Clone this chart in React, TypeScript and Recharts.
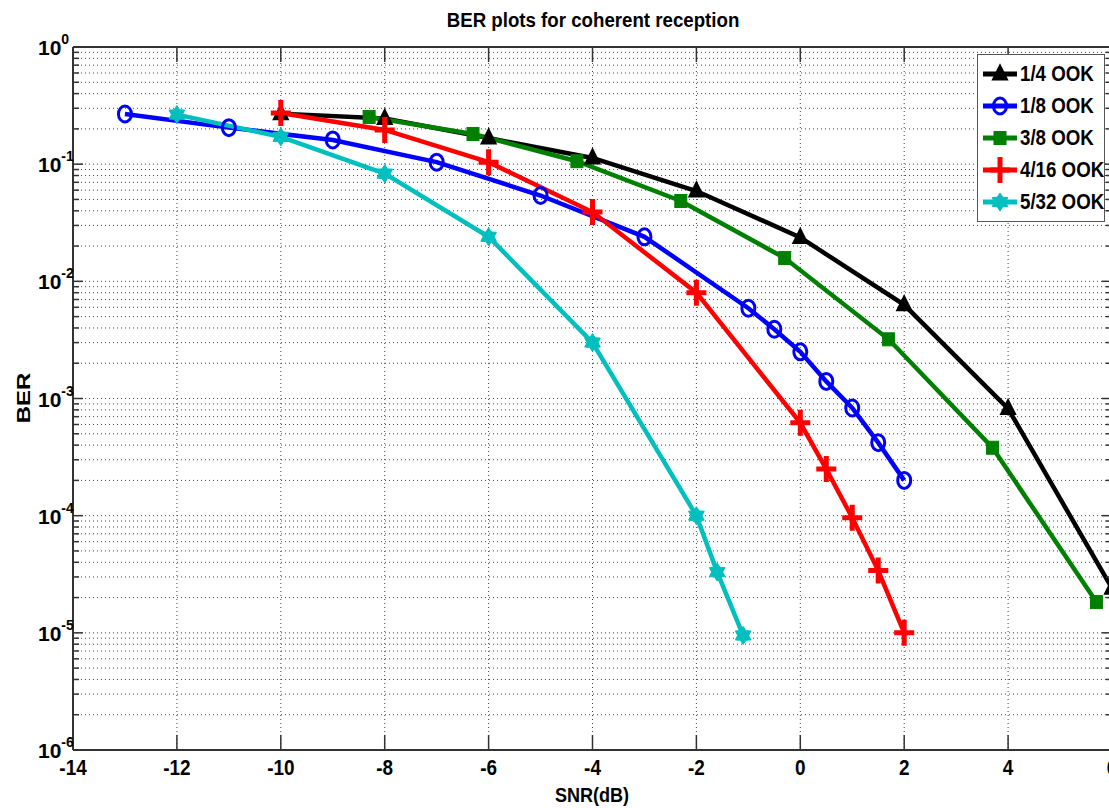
import React from 'react';
import { LineChart, Line, XAxis, YAxis, CartesianGrid, Legend } from 'recharts';

// SNR (dB) and BER, one pair of arrays per curve
const ook14Snr = [-10, -8, -6, -4, -2, 0, 2, 4, 6];
const ook14Ber = [0.27, 0.245, 0.167, 0.113, 0.059, 0.0237, 0.0063, 0.00082, 2.4e-5];

const ook18Snr = [-13, -11, -9, -7, -5, -3, -1, -0.5, 0, 0.5, 1, 1.5, 2];
const ook18Ber = [0.268, 0.205, 0.161, 0.104, 0.054, 0.024, 0.0059, 0.0039, 0.0025, 0.0014, 0.00083, 0.00042, 0.0002];

const ook38Snr = [-8.3, -6.3, -4.3, -2.3, -0.3, 1.7, 3.7, 5.7];
const ook38Ber = [0.253, 0.181, 0.106, 0.0485, 0.0158, 0.0032, 0.00038, 1.83e-5];

const ook416Snr = [-10, -8, -6, -4, -2, 0, 0.5, 1, 1.5, 2];
const ook416Ber = [0.273, 0.196, 0.104, 0.039, 0.008, 0.00062, 0.00025, 9.6e-5, 3.4e-5, 1.0e-5];

const ook532Snr = [-12, -10, -8, -6, -4, -2, -1.6, -1.1];
const ook532Ber = [0.265, 0.171, 0.083, 0.024, 0.003, 1.0e-4, 3.3e-5, 9.5e-6];

const xTicks = [-14, -12, -10, -8, -6, -4, -2, 0, 2, 4, 6];
const yMajorTicks = [1e-6, 1e-5, 1e-4, 1e-3, 1e-2, 1e-1, 1];
const yMinorSteps = [2, 3, 4, 5, 6, 7, 8, 9];
const yTicks = [
  ...yMajorTicks,
  ...yMajorTicks.slice(0, -1).flatMap((m) => yMinorSteps.map((s) => s * m)),
].sort((a, b) => a - b);

const FONT = "'Liberation Sans', Arial, sans-serif";
const AXIS = '#333';

const toRows = (xs: number[], ys: number[]) => xs.map((x, i) => ({ x, y: ys[i] }));

type MarkerKind = 'triangle' | 'circle' | 'square' | 'plus' | 'hexagram';

const series: { name: string; color: string; marker: MarkerKind; data: { x: number; y: number }[] }[] = [
  { name: '1/4 OOK', color: '#000000', marker: 'triangle', data: toRows(ook14Snr, ook14Ber) },
  { name: '1/8 OOK', color: '#0000ff', marker: 'circle', data: toRows(ook18Snr, ook18Ber) },
  { name: '3/8 OOK', color: '#008000', marker: 'square', data: toRows(ook38Snr, ook38Ber) },
  { name: '4/16 OOK', color: '#ff0000', marker: 'plus', data: toRows(ook416Snr, ook416Ber) },
  { name: '5/32 OOK', color: '#00bfbf', marker: 'hexagram', data: toRows(ook532Snr, ook532Ber) },
];

function Marker({ kind, cx, cy, color }: { kind: MarkerKind; cx: number; cy: number; color: string }) {
  if (cx == null || cy == null) return null;
  switch (kind) {
    case 'triangle':
      return <polygon points={`${cx},${cy - 8.5} ${cx + 7},${cy + 5.5} ${cx - 7},${cy + 5.5}`} fill={color} stroke={color} strokeWidth={2} />;
    case 'circle':
      return <ellipse cx={cx} cy={cy} rx={6.5} ry={8} fill="none" stroke={color} strokeWidth={3} />;
    case 'square':
      return <rect x={cx - 6} y={cy - 6.5} width={12} height={13} fill={color} stroke={color} strokeWidth={1} />;
    case 'plus':
      return <path d={`M${cx - 10},${cy}H${cx + 10}M${cx},${cy - 13}V${cy + 13}`} stroke={color} strokeWidth={5} fill="none" />;
    case 'hexagram': {
      const pts: string[] = [];
      for (let i = 0; i < 12; i++) {
        const r = i % 2 === 0 ? 9 : 5.5;
        const a = (Math.PI / 6) * i - Math.PI / 2;
        pts.push(`${cx + r * Math.cos(a)},${cy + r * Math.sin(a)}`);
      }
      return <polygon points={pts.join(' ')} fill={color} stroke={color} strokeWidth={1} />;
    }
  }
  return null;
}

const isMajor = (v: number) => yMajorTicks.includes(v);

const YTickLeft = (props: any) => {
  const { x, y, payload } = props;
  const major = isMajor(payload.value);
  const exp = Math.round(Math.log10(payload.value));
  return (
    <g>
      <line x1={x} x2={x + (major ? 10 : 6)} y1={y} y2={y} stroke={AXIS} strokeWidth={1.5} />
      {major && (
        <text x={x - 35} y={y + 8} fontFamily={FONT} fontSize={21} fontWeight="bold" fill="#000">
          10
          <tspan dy={-11} fontSize={14}>{exp}</tspan>
        </text>
      )}
    </g>
  );
};

const YTickRight = (props: any) => {
  const { x, y, payload } = props;
  const major = isMajor(payload.value);
  return <line x1={x} x2={x - (major ? 10 : 6)} y1={y} y2={y} stroke={AXIS} strokeWidth={1.5} />;
};

const XTickBottom = (props: any) => {
  const { x, y, payload } = props;
  return (
    <g>
      <line x1={x} x2={x} y1={y} y2={y - 15} stroke={AXIS} strokeWidth={1.5} />
      <text
        transform={`translate(${x} ${y + 25}) scale(0.86 1)`}
        textAnchor="middle"
        fontFamily={FONT}
        fontSize={22}
        fontWeight="bold"
        fill="#000"
      >
        {payload.value}
      </text>
    </g>
  );
};

const XTickTop = (props: any) => {
  const { x, y } = props;
  return <line x1={x} x2={x} y1={y} y2={y + 15} stroke={AXIS} strokeWidth={1.5} />;
};

const renderLegend = () => (
  <div
    style={{
      border: '1.5px solid #555',
      background: '#fff',
      padding: '3px 4px',
      width: 128,
      boxSizing: 'border-box',
    }}
  >
    {series.map((s) => (
      <div key={s.name} style={{ display: 'flex', alignItems: 'center', height: 32 }}>
        <svg width={36} height={30} style={{ flex: 'none' }}>
          <line x1={1} y1={15} x2={35} y2={15} stroke={s.color} strokeWidth={5} />
          <Marker kind={s.marker} cx={18} cy={15} color={s.color} />
        </svg>
        <span
          style={{
            display: 'inline-block',
            fontFamily: FONT,
            fontSize: 22,
            fontWeight: 'bold',
            marginLeft: 2,
            color: '#000',
            whiteSpace: 'nowrap',
            transform: 'scaleX(0.85)',
            transformOrigin: 'left center',
          }}
        >
          {s.name}
        </span>
      </div>
    ))}
  </div>
);

export default function App() {
  return (
    <div style={{ position: 'absolute', left: 0, top: 0, width: 1109, height: 808, overflow: 'hidden', background: '#fff' }}>
      <LineChart width={1130} height={808} margin={{ top: 0, right: 0, bottom: 0, left: 0 }}>
        <CartesianGrid stroke="#444" strokeDasharray="1 3" strokeWidth={1} />
        <XAxis
          dataKey="x"
          type="number"
          domain={[-14, 6]}
          ticks={xTicks}
          interval={0}
          allowDataOverflow
          height={58}
          tickSize={0}
          tickMargin={0}
          axisLine={{ stroke: AXIS, strokeWidth: 2 }}
          tickLine={false}
          tick={(p: any) => <XTickBottom {...p} />}
        />
        <XAxis
          xAxisId="top"
          orientation="top"
          dataKey="x"
          type="number"
          domain={[-14, 6]}
          ticks={xTicks}
          interval={0}
          allowDataOverflow
          height={47}
          tickSize={0}
          tickMargin={0}
          axisLine={{ stroke: AXIS, strokeWidth: 2 }}
          tickLine={false}
          tick={(p: any) => <XTickTop {...p} />}
        />
        <YAxis
          scale="log"
          type="number"
          domain={[1e-6, 1]}
          ticks={yTicks}
          interval={0}
          allowDataOverflow
          width={73}
          tickSize={0}
          tickMargin={0}
          axisLine={{ stroke: AXIS, strokeWidth: 2 }}
          tickLine={false}
          tick={(p: any) => <YTickLeft {...p} />}
        />
        <YAxis
          yAxisId="right"
          orientation="right"
          scale="log"
          type="number"
          domain={[1e-6, 1]}
          ticks={yTicks}
          interval={0}
          allowDataOverflow
          width={18}
          tickSize={0}
          tickMargin={0}
          axisLine={{ stroke: AXIS, strokeWidth: 2 }}
          tickLine={false}
          tick={(p: any) => <YTickRight {...p} />}
        />
        <Legend
          layout="horizontal"
          verticalAlign="middle"
          align="center"
          content={renderLegend}
          wrapperStyle={{ left: 977, top: 54, width: 'auto' }}
        />
        {series.map((s) => (
          <Line
            key={s.name}
            name={s.name}
            data={s.data}
            dataKey="y"
            stroke={s.color}
            strokeWidth={4.5}
            isAnimationActive={false}
            dot={(p: any) => <Marker key={`${s.name}-${p.index}`} kind={s.marker} cx={p.cx} cy={p.cy} color={s.color} />}
            activeDot={false}
          />
        ))}
        <text
          transform="translate(593 27) scale(0.89 1)"
          textAnchor="middle"
          fontFamily={FONT}
          fontSize={21}
          fontWeight="bold"
          fill="#000"
        >
          BER plots for coherent reception
        </text>
        <text
          transform="translate(592 802) scale(0.86 1)"
          textAnchor="middle"
          fontFamily={FONT}
          fontSize={21}
          fontWeight="bold"
          fill="#000"
        >
          SNR(dB)
        </text>
        <text
          transform="translate(30 398) scale(0.8 1) rotate(-90)"
          textAnchor="middle"
          fontFamily={FONT}
          fontSize={24}
          fontWeight="bold"
          fill="#000"
        >
          BER
        </text>
      </LineChart>
    </div>
  );
}
